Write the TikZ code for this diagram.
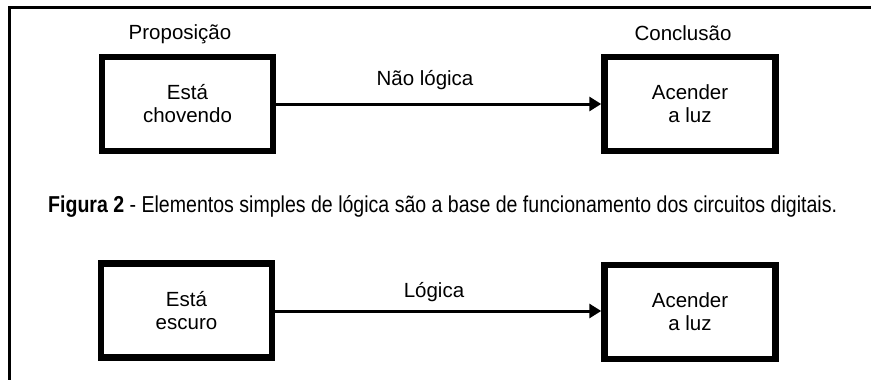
\documentclass[tikz,border=0pt]{standalone}
\usepackage{fontspec}
\setmainfont{Liberation Sans}
\newfontfamily\narrowfont[FakeStretch=0.85]{Liberation Sans}
\usetikzlibrary{arrows.meta}
\begin{document}
\begin{tikzpicture}[x=1pt,y=-1pt,
  boxnode/.style={draw,line width=6.5pt,minimum width=171pt,minimum height=94pt,inner sep=0pt,align=center,font=\fontsize{20.5}{23}\selectfont},
  lbl/.style={anchor=base,inner sep=0pt,font=\fontsize{20.5}{23}\selectfont},
  conn/.style={line width=3pt,-{Triangle[length=12pt,width=14pt]}}]
\useasboundingbox (0,0) rectangle (871,380);
\draw[line width=3pt] (9,380) -- (9,7.5) -- (871,7.5);
\node[boxnode] (p1) at (187.5,104) {Está\\chovendo};
\node[boxnode] (c1) at (690,104) {Acender\\a luz};
\node[boxnode] (p2) at (186.5,310.5) {Está\\escuro};
\node[boxnode] (c2) at (690,312) {Acender\\a luz};
\node[lbl] (tp) at (180,39) {Proposição};
\node[lbl] (tc) at (683,41) {Conclusão};
\draw[conn] (p1.east |- 0,104) -- (c1.west |- 0,104);
\draw[conn] (p2.east |- 0,311) -- (c2.west |- 0,311);
\node[lbl] (l1) at (425,85) {Não lógica};
\node[lbl] (l2) at (434,297) {Lógica};
\node[anchor=base west,inner sep=0pt,font=\narrowfont\fontsize{23}{26}\selectfont] (cap) at (48,212) {\textbf{Figura 2} - Elementos simples de lógica são a base de funcionamento dos circuitos digitais.};
\end{tikzpicture}
\end{document}
